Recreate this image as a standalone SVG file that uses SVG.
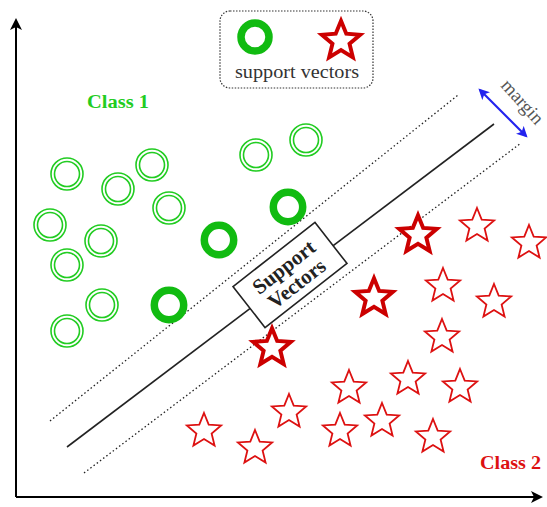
<svg xmlns="http://www.w3.org/2000/svg" width="547" height="507" viewBox="0 0 547 507">
  <style>
    .ring { fill: none; stroke: #22cc22; stroke-width: 1.6; }
    .sv-ring { fill: none; stroke: #11bb11; stroke-width: 7.5; }
    .star { fill: #ffffff; stroke: #dd1111; stroke-width: 1.8; stroke-linejoin: miter; }
    .sv-star { fill: #ffffff; stroke: #cc0000; stroke-width: 4; stroke-linejoin: miter; }
    .axis { stroke: #000; stroke-width: 2; fill: none; }
    .hyper { stroke: #222; stroke-width: 1.6; fill: none; }
    .dotted { stroke: #222; stroke-width: 1.3; stroke-dasharray: 1.5 2.5; fill: none; }
    .serif { font-family: "Liberation Serif", "Times New Roman", serif; }
  </style>
  <defs>
    <marker id="axisHead" viewBox="0 0 12 12" refX="10" refY="6" markerWidth="12" markerHeight="12" markerUnits="userSpaceOnUse" orient="auto">
      <path d="M0,0 L12,6 L0,12 L3,6 Z" fill="#000"/>
    </marker>
    <marker id="blueHead" viewBox="0 0 10 10" refX="8" refY="5" markerWidth="11" markerHeight="11" markerUnits="userSpaceOnUse" orient="auto-start-reverse">
      <path d="M0,0 L10,5 L0,10 L2.5,5 Z" fill="#2222ee"/>
    </marker>
    <path id="starShape" d="M0,-18 L4.7,-6.47 L17.12,-5.56 L7.61,2.47 L10.58,14.56 L0,8 L-10.58,14.56 L-7.61,2.47 L-17.12,-5.56 L-4.7,-6.47 Z"/>
    <g id="dblRing">
      <circle r="16" class="ring"/>
      <circle r="12.5" class="ring"/>
    </g>
  </defs>

  <!-- axes -->
  <g id="axes">
    <line x1="16" y1="497" x2="16" y2="20" class="axis" marker-end="url(#axisHead)"/>
    <line x1="16" y1="497" x2="541" y2="497" class="axis" marker-end="url(#axisHead)"/>
  </g>

  <!-- legend -->
  <g id="legend">
    <rect x="220" y="11" width="153" height="77" rx="10" ry="10" fill="#fff" stroke="#333" stroke-width="1.2" stroke-dasharray="1.5 1.5"/>
    <circle cx="255" cy="37" r="14" class="sv-ring"/>
    <use href="#starShape" transform="translate(341,41) scale(1.12)" class="sv-star" style="stroke-width:3.5"/>
    <text x="297" y="78" text-anchor="middle" class="serif" font-size="19" fill="#333" textLength="124" lengthAdjust="spacingAndGlyphs">support vectors</text>
  </g>

  <!-- connectors: hyperplane, margins and margin arrow -->
  <g id="connectors">
    <line x1="50" y1="421" x2="458" y2="95" class="dotted"/>
    <line x1="84" y1="473" x2="521" y2="143" class="dotted"/>
    <line x1="67" y1="447" x2="494" y2="124" class="hyper"/>
    <line x1="480" y1="90" x2="526" y2="136" stroke="#2222ee" stroke-width="2.2" marker-start="url(#blueHead)" marker-end="url(#blueHead)"/>
  </g>

  <g id="margin-label">
    <text transform="translate(500,86) rotate(48)" class="serif" font-size="19" fill="#555">margin</text>
  </g>

  <!-- class labels -->
  <g id="class1-label">
    <text x="87" y="108" class="serif" font-size="18" font-weight="bold" fill="#22cc22" textLength="62" lengthAdjust="spacingAndGlyphs">Class 1</text>
  </g>
  <g id="class2-label">
    <text x="480" y="469" class="serif" font-size="18" font-weight="bold" fill="#dd1111" textLength="61" lengthAdjust="spacingAndGlyphs">Class 2</text>
  </g>

  <!-- class 1 points -->
  <g id="class1">
    <use href="#dblRing" x="67" y="174"/>
    <use href="#dblRing" x="118" y="189"/>
    <use href="#dblRing" x="152" y="165"/>
    <use href="#dblRing" x="169" y="208"/>
    <use href="#dblRing" x="50" y="225"/>
    <use href="#dblRing" x="101" y="241"/>
    <use href="#dblRing" x="67" y="265"/>
    <use href="#dblRing" x="102" y="305"/>
    <use href="#dblRing" x="67" y="331"/>
    <use href="#dblRing" x="256" y="155"/>
    <use href="#dblRing" x="306" y="140"/>
  </g>
  <g id="class1-support">
    <circle cx="219" cy="240" r="14.7" class="sv-ring"/>
    <circle cx="288" cy="207" r="14.7" class="sv-ring"/>
    <circle cx="169" cy="305" r="14.7" class="sv-ring"/>
  </g>

  <!-- class 2 points -->
  <g id="class2">
    <use href="#starShape" x="477" y="226" class="star"/>
    <use href="#starShape" x="529" y="243" class="star"/>
    <use href="#starShape" x="443" y="286" class="star"/>
    <use href="#starShape" x="494" y="302" class="star"/>
    <use href="#starShape" x="442" y="337" class="star"/>
    <use href="#starShape" x="408" y="379" class="star"/>
    <use href="#starShape" x="460" y="387" class="star"/>
    <use href="#starShape" x="349" y="388" class="star"/>
    <use href="#starShape" x="289" y="412" class="star"/>
    <use href="#starShape" x="382" y="421" class="star"/>
    <use href="#starShape" x="340" y="431" class="star"/>
    <use href="#starShape" x="204" y="431" class="star"/>
    <use href="#starShape" x="255" y="448" class="star"/>
    <use href="#starShape" x="433" y="437" class="star"/>
  </g>
  <g id="class2-support">
    <use href="#starShape" transform="translate(418,235) scale(1.1)" class="sv-star" style="stroke-width:3.6"/>
    <use href="#starShape" transform="translate(374,298) scale(1.1)" class="sv-star" style="stroke-width:3.6"/>
    <use href="#starShape" transform="translate(272,348) scale(1.1)" class="sv-star" style="stroke-width:3.6"/>
  </g>

  <!-- label box on the hyperplane -->
  <g id="support-vectors-box" transform="translate(290,275) rotate(-38)">
    <rect x="-52" y="-26" width="104" height="52" fill="#fff" stroke="#222" stroke-width="1.6"/>
    <text x="0" y="-3" text-anchor="middle" class="serif" font-size="21" font-weight="bold" fill="#222">Support</text>
    <text x="0" y="18" text-anchor="middle" class="serif" font-size="21" font-weight="bold" fill="#222">Vectors</text>
  </g>
</svg>
